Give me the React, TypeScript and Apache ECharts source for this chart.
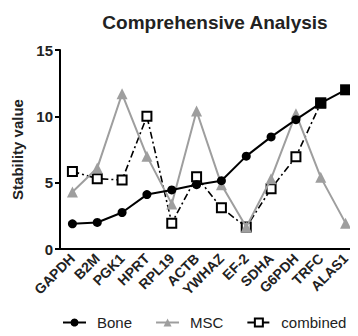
import React, { useEffect, useRef } from "react";
import * as echarts from "echarts";

const categories = ["GAPDH", "B2M", "PGK1", "HPRT", "RPL19", "ACTB", "YWHAZ", "EF-2", "SDHA", "G6PDH", "TRFC", "ALAS1"];
const boneValues = [1.9, 2.0, 2.75, 4.1, 4.45, 4.85, 5.15, 7.0, 8.45, 9.75, 11.0, 12.0];
const mscValues = [4.3, 6.1, 11.7, 7.0, 3.4, 10.4, 4.85, 1.65, 5.3, 10.2, 5.4, 1.95];
const combinedValues: (number | null)[] = [5.85, 5.3, 5.2, 10.0, 1.95, 5.45, 3.1, 1.65, 4.55, 6.95, 11.0, null];
const yTicks = [0, 5, 10, 15];

const FONT = "Arial, 'Liberation Sans', Helvetica, sans-serif";

export default function App() {
  const ref = useRef<HTMLDivElement>(null);
  useEffect(() => {
    if (!ref.current) return;
    const chart = echarts.init(ref.current, undefined, { renderer: "svg" });
    const boneData = boneValues.map((v, i) =>
      i >= 10 ? { value: v, symbol: "rect", symbolSize: 11 } : v
    );
    chart.setOption({
      animation: false,
      textStyle: { fontFamily: FONT },
      title: {
        text: "Comprehensive Analysis",
        left: 210,
        textAlign: "center",
        top: 8,
        textStyle: { fontSize: 19, fontWeight: "bold", color: "#222", fontFamily: FONT },
      },
      legend: {
        top: 310,
        left: 57,
        itemWidth: 23,
        itemHeight: 10,
        itemGap: 23,
        textStyle: { fontSize: 15, color: "#222", fontFamily: FONT, padding: [0, 0, 0, 6] },
        data: ["Bone", "MSC", "combined"],
      },
      grid: { left: 60, right: 0, top: 50, bottom: 87, containLabel: false },
      xAxis: {
        type: "category",
        data: categories,
        boundaryGap: true,
        axisLine: { lineStyle: { color: "#000", width: 2 } },
        axisTick: { alignWithLabel: true, length: 5, lineStyle: { color: "#000", width: 2 } },
        axisLabel: {
          rotate: 45,
          interval: 0,
          fontSize: 14,
          fontWeight: "bold",
          color: "#222",
          margin: 7,
          fontFamily: FONT,
        },
      },
      yAxis: {
        type: "value",
        min: 0,
        max: 15,
        interval: 5,
        name: "Stability value",
        nameLocation: "middle",
        nameGap: 33,
        nameTextStyle: { fontSize: 15, fontWeight: "bold", color: "#222", fontFamily: FONT },
        splitLine: { show: false },
        axisLine: { show: true, lineStyle: { color: "#000", width: 2 } },
        axisTick: { show: true, length: 5, lineStyle: { color: "#000", width: 2 } },
        axisLabel: {
          fontSize: 15,
          fontWeight: "bold",
          color: "#222",
          margin: 7,
          fontFamily: FONT,
          formatter: (v: number) => (yTicks.includes(v) ? String(v) : ""),
        },
      },
      series: [
        {
          name: "combined",
          type: "line",
          data: combinedValues,
          z: 2,
          symbol: "rect",
          symbolSize: 9,
          connectNulls: false,
          lineStyle: { color: "#000", width: 1.6, type: [7, 3, 2, 3] },
          itemStyle: { color: "#fff", borderColor: "#000", borderWidth: 2 },
        },
        {
          name: "MSC",
          type: "line",
          data: mscValues,
          z: 3,
          symbol: "triangle",
          symbolSize: 11,
          lineStyle: { color: "#9e9e9e", width: 2 },
          itemStyle: { color: "#9e9e9e" },
        },
        {
          name: "Bone",
          type: "line",
          data: boneData,
          z: 4,
          symbol: "circle",
          symbolSize: 9,
          lineStyle: { color: "#000", width: 2 },
          itemStyle: { color: "#000" },
        },
      ],
    });
    return () => chart.dispose();
  }, []);
  return <div ref={ref} style={{ width: 358, height: 336, margin: -8 }} />;
}
